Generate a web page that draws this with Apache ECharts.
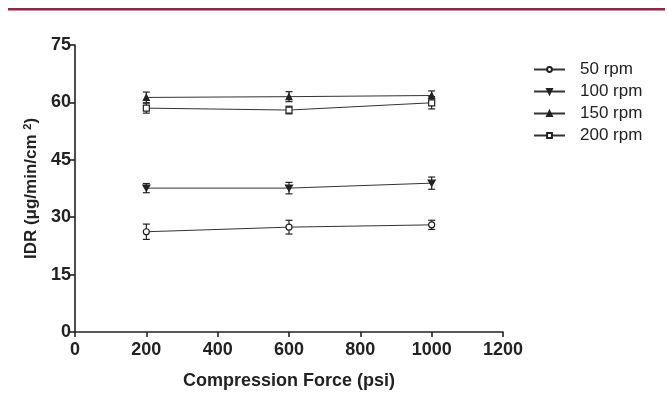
<!DOCTYPE html>
<html>
<head>
<meta charset="utf-8">
<script src="https://cdn.jsdelivr.net/npm/echarts@6/dist/echarts.min.js"></script>
<style>
html,body{margin:0;padding:0;background:#fff;}
#chart{width:668px;height:395px;}
</style>
</head>
<body>
<div id="chart"></div>
<script>
// compression force (psi)
var forces = [200, 600, 1000];
var seriesNames = ["50 rpm", "100 rpm", "150 rpm", "200 rpm"];
// mean IDR values
var idr50 = [26.2, 27.4, 28.0];
var idr100 = [37.6, 37.6, 38.9];
var idr150 = [61.3, 61.5, 61.8];
var idr200 = [58.5, 58.0, 59.9];
// error bar half widths (SD)
var sd50 = [2.0, 1.8, 1.2];
var sd100 = [1.2, 1.5, 1.6];
var sd150 = [1.4, 1.3, 1.2];
var sd200 = [1.3, 1.0, 1.6];
var yTicks = [0, 15, 30, 45, 60, 75];
var xTicks = [0, 200, 400, 600, 800, 1000, 1200];

var symbols = ["circle", "path://M0,0 L10,0 L5,9 Z", "triangle", "rect"];
var symbolFill = ["#fff", "#222", "#222", "#fff"];
var means = [idr50, idr100, idr150, idr200];
var sds = [sd50, sd100, sd150, sd200];
var font = "Liberation Sans, Arial";

function pairs(vals){
	var out = [];
	for(var i = 0; i < forces.length; i++){
		out.push([forces[i], vals[i]]);
	}
	return out;
}
function errData(vals, sd){
	var out = [];
	for(var i = 0; i < forces.length; i++){
		out.push([forces[i], vals[i] - sd[i], vals[i] + sd[i]]);
	}
	return out;
}
function renderErr(params, api){
	var x = api.value(0);
	var lo = api.coord([x, api.value(1)]);
	var hi = api.coord([x, api.value(2)]);
	var cap = 3.5;
	var st = {stroke: "#222", lineWidth: 1.2};
	return {
		type: "group",
		children: [
			{type: "line", shape: {x1: lo[0], y1: lo[1], x2: hi[0], y2: hi[1]}, style: st},
			{type: "line", shape: {x1: lo[0] - cap, y1: lo[1], x2: lo[0] + cap, y2: lo[1]}, style: st},
			{type: "line", shape: {x1: hi[0] - cap, y1: hi[1], x2: hi[0] + cap, y2: hi[1]}, style: st}
		]
	};
}

// lines first so the legend picks their icons
var series = [];
for(var k = 0; k < seriesNames.length; k++){
	series.push({
		name: seriesNames[k],
		type: "line",
		data: pairs(means[k]),
		symbol: symbols[k],
		symbolSize: k == 1 ? [7, 6] : 6,
		showAllSymbol: true,
		lineStyle: {color: "#333", width: 1},
		itemStyle: {color: symbolFill[k], borderColor: "#222", borderWidth: 1.2},
		z: 4
	});
}
for(var k = 0; k < seriesNames.length; k++){
	series.push({
		name: seriesNames[k] + " err",
		type: "custom",
		renderItem: renderErr,
		data: errData(means[k], sds[k]),
		z: 3,
		silent: true
	});
}

var chart = echarts.init(document.getElementById("chart"));
chart.setOption({
	animation: false,
	backgroundColor: "#fff",
	graphic: [
		{type: "rect", shape: {x: 8, y: 8, width: 657, height: 2}, style: {fill: "#8a2a44"}},
		{type: "rect", shape: {x: 8, y: 10, width: 657, height: 1}, style: {fill: "#c48a9a"}}
	],
	grid: {left: 75, top: 45, right: 165, bottom: 63},
	legend: {
		data: seriesNames,
		orient: "vertical",
		left: 528,
		top: 56,
		itemWidth: 31,
		itemHeight: 6,
		itemGap: 5,
		textStyle: {fontFamily: font, fontSize: 17, color: "#222", padding: [0, 0, 0, 10]}
	},
	xAxis: {
		type: "value",
		min: xTicks[0],
		max: xTicks[xTicks.length - 1],
		interval: 200,
		splitLine: {show: false},
		axisLine: {lineStyle: {color: "#222", width: 1.6}},
		axisTick: {length: 5, lineStyle: {color: "#222", width: 1.6}},
		axisLabel: {color: "#222", fontFamily: font, fontWeight: "bold", fontSize: 18, margin: 9,
			formatter: function(v){ return String(v); }},
		name: "Compression Force (psi)",
		nameLocation: "middle",
		nameGap: 40,
		nameTextStyle: {color: "#222", fontFamily: font, fontWeight: "bold", fontSize: 18}
	},
	yAxis: {
		type: "value",
		min: yTicks[0],
		max: yTicks[yTicks.length - 1],
		interval: 15,
		splitLine: {show: false},
		axisLine: {show: true, lineStyle: {color: "#222", width: 1.6}},
		axisTick: {show: true, length: 5, lineStyle: {color: "#222", width: 1.6}},
		axisLabel: {color: "#222", fontFamily: font, fontWeight: "bold", fontSize: 18, margin: 4},
		name: "IDR (μg/min/cm {s|2})",
		nameLocation: "middle",
		nameGap: 30,
		nameTextStyle: {
			color: "#222", fontFamily: font, fontWeight: "bold", fontSize: 17,
			rich: {s: {fontSize: 11, fontWeight: "bold", fontFamily: font, color: "#222", verticalAlign: "top", padding: [0, 0, 7, 0]}}
		}
	},
	series: series
});
</script>
</body>
</html>
